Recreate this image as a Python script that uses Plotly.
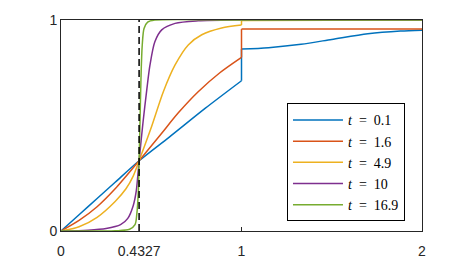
import plotly.graph_objects as go

# ---- data ----
labels = ["0.1", "1.6", "4.9", "10", "16.9"]
colors = ["#0072BD", "#D95319", "#EDB120", "#7E2F8E", "#77AC30"]

x_t01 = [0, 0.1, 0.2, 0.3, 0.4327, 0.6, 0.8, 1.0, 1.0, 1.15, 1.33, 1.5, 1.7, 1.88, 2.0]
y_t01 = [0, 0.077, 0.154, 0.231, 0.333, 0.445, 0.582, 0.712, 0.862, 0.869, 0.885, 0.908, 0.935, 0.948, 0.952]

x_t16 = [0, 0.1, 0.2, 0.3, 0.4327, 0.55, 0.65, 0.76, 0.88, 1.0, 1.0, 2.0]
y_t16 = [0, 0.05, 0.115, 0.2, 0.333, 0.455, 0.56, 0.66, 0.75, 0.823, 0.957, 0.957]

x_t49 = [0, 0.1, 0.2, 0.3, 0.36, 0.4, 0.4327, 0.5, 0.567, 0.632, 0.705, 0.78, 0.89, 1.0, 1.0, 2.0]
y_t49 = [0, 0.02, 0.065, 0.14, 0.2, 0.26, 0.333, 0.49, 0.66, 0.787, 0.882, 0.93, 0.962, 0.976, 0.998, 1.0]

x_t10 = [0, 0.15, 0.25, 0.33, 0.37, 0.4, 0.417, 0.4327, 0.455, 0.475, 0.493, 0.52, 0.558, 0.632, 0.76, 1.0, 2.0]
y_t10 = [0, 0.004, 0.012, 0.03, 0.06, 0.12, 0.19, 0.333, 0.52, 0.668, 0.787, 0.897, 0.953, 0.984, 0.996, 1.0, 1.0]

x_t169 = [0, 0.3, 0.38, 0.41, 0.42, 0.428, 0.4327, 0.437, 0.443, 0.45, 0.46, 0.48, 0.52, 1.0, 2.0]
y_t169 = [0, 0.001, 0.008, 0.03, 0.08, 0.18, 0.333, 0.49, 0.72, 0.88, 0.96, 0.99, 1.0, 1.0, 1.0]

x_marker = 0.4327
x_ticks = [0, 0.4327, 1, 2]
x_ticktext = ["0", "0.4327", "1", "2"]
y_ticks = [0, 1]
y_ticktext = ["0", "1"]

series_x = [x_t01, x_t16, x_t49, x_t10, x_t169]
series_y = [y_t01, y_t16, y_t49, y_t10, y_t169]


def split_at_jumps(xs, ys):
    """Split a series into smooth pieces and vertical jump pieces."""
    pieces = []
    start = 0
    for k in range(1, len(xs)):
        if xs[k] == xs[k - 1]:
            pieces.append(("smooth", xs[start:k], ys[start:k]))
            pieces.append(("jump", xs[k - 1:k + 1], ys[k - 1:k + 1]))
            start = k
    pieces.append(("smooth", xs[start:], ys[start:]))
    return pieces


fig = go.Figure()
for i, (xs, ys) in enumerate(zip(series_x, series_y)):
    first = True
    for kind, px, py in split_at_jumps(xs, ys):
        fig.add_trace(go.Scatter(
            x=px, y=py, mode="lines",
            name="<i>t</i>&#8194;=&#8194;" + labels[i],
            showlegend=first,
            line=dict(color=colors[i], width=1.5,
                      shape="spline" if kind == "smooth" else "linear",
                      smoothing=0.8),
        ))
        first = False

fig.add_trace(go.Scatter(
    x=[x_marker, x_marker], y=[0, 1], mode="lines", showlegend=False,
    line=dict(color="black", width=1.5, dash="7px,4px"),
))

axis_font = dict(family="Liberation Sans, Arial, sans-serif", size=14, color="#262626")
fig.update_layout(
    width=467, height=261,
    margin=dict(l=61, r=45, t=20, b=30),
    paper_bgcolor="white", plot_bgcolor="white",
    xaxis=dict(range=[0, 2], tickvals=x_ticks, ticktext=x_ticktext,
               showline=True, mirror=True, linecolor="#262626", linewidth=1,
               ticks="inside", ticklen=4, tickcolor="#262626",
               ticklabelstandoff=7, automargin=False,
               showgrid=False, zeroline=False, tickfont=axis_font),
    yaxis=dict(range=[0, 1], tickvals=y_ticks, ticktext=y_ticktext,
               showline=True, mirror=True, linecolor="#262626", linewidth=1,
               ticks="inside", ticklen=4, tickcolor="#262626",
               automargin=False,
               showgrid=False, zeroline=False, tickfont=axis_font),
    legend=dict(x=0.626, y=0.605, xanchor="left", yanchor="top",
                bgcolor="white", bordercolor="black", borderwidth=1,
                font=dict(family="Liberation Serif, Times New Roman, serif", size=14, color="black"),
                itemwidth=50),
    showlegend=True,
)

fig.write_html("out.html", config={"displayModeBar": False},
               post_script="document.body.style.margin='0';")
